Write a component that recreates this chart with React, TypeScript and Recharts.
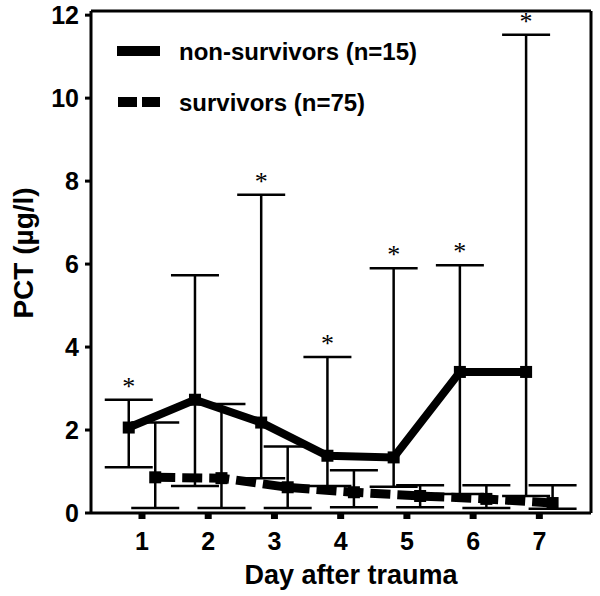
import {
  ComposedChart,
  Line,
  Scatter,
  XAxis,
  YAxis,
  ErrorBar,
  ReferenceLine,
  Legend,
} from "recharts";

const days = [1, 2, 3, 4, 5, 6, 7];
const yTicks = [0, 2, 4, 6, 8, 10, 12];

const nonSurvMean = [2.06, 2.73, 2.18, 1.38, 1.34, 3.4, 3.4];
const nonSurvUpper = [2.73, 5.73, 7.67, 3.76, 5.9, 5.97, 11.53];
const nonSurvLower = [1.1, 0.65, 0.84, 0.65, 0.63, 0.46, 0.41];
const nonSurvSignificant = [true, false, true, true, true, true, true];

const survMean = [0.86, 0.84, 0.62, 0.5, 0.41, 0.34, 0.24];
const survUpper = [2.18, 2.63, 1.6, 1.03, 0.67, 0.67, 0.67];
const survLower = [0.12, 0.12, 0.12, 0.14, 0.14, 0.12, 0.1];

const seriesNames = ["non-survivors (n=15)", "survivors (n=75)"];

const SHIFT = 0.2;
const X_MIN = 0.23;
const X_MAX = 7.78;
const Y_MAX = 12.1;
const FONT = '"Liberation Sans", Arial, sans-serif';

const nonSurvData = days.map((d, i) => ({
  x: d - SHIFT,
  y: nonSurvMean[i],
  err: [nonSurvMean[i] - nonSurvLower[i], nonSurvUpper[i] - nonSurvMean[i]],
}));

const survData = days.map((d, i) => ({
  x: d + SHIFT,
  y: survMean[i],
  err: [survMean[i] - survLower[i], survUpper[i] - survMean[i]],
}));

const starData = days
  .map((d, i) => ({ x: d - SHIFT, y: nonSurvUpper[i], sig: nonSurvSignificant[i] }))
  .filter((p) => p.sig);

const squareDot = (size: number) => (props: any) => {
  const { cx, cy, index } = props;
  if (cx == null || cy == null) return <g key={index} />;
  return (
    <rect key={index} x={cx - size / 2} y={cy - size / 2} width={size} height={size} fill="#000" />
  );
};

const Star = (props: any) => {
  const { cx, cy } = props;
  return (
    <text x={cx} y={cy - 5} textAnchor="middle" fontFamily='"Liberation Serif", serif' fontSize={26} fill="#000">
      *
    </text>
  );
};

const renderLegend = () => (
  <svg width={600} height={130}>
    <line x1={117} x2={160} y1={51} y2={51} stroke="#000" strokeWidth={10} />
    <text x={179} y={51} dominantBaseline="central" fontFamily={FONT} fontWeight="bold" fontSize={24}>
      {seriesNames[0]}
    </text>
    <line x1={118} x2={160} y1={102} y2={102} stroke="#000" strokeWidth={10} strokeDasharray="19 5" />
    <text x={179} y={102} dominantBaseline="central" fontFamily={FONT} fontWeight="bold" fontSize={24}>
      {seriesNames[1]}
    </text>
  </svg>
);

export default function App() {
  return (
    <div style={{ position: "absolute", left: 0, top: 0, background: "#fff" }}>
      <ComposedChart width={600} height={596} margin={{ top: 11, right: 9, bottom: 0, left: 0 }}>
        <XAxis
          type="number"
          dataKey="x"
          domain={[X_MIN, X_MAX]}
          ticks={days}
          allowDataOverflow
          height={83}
          axisLine={{ stroke: "#000", strokeWidth: 3 }}
          tickLine={{ stroke: "#000", strokeWidth: 7 }}
          tickSize={6}
          tickMargin={13}
          tick={{ fill: "#000", fontFamily: FONT, fontWeight: "bold", fontSize: 25 }}
          label={(p: any) => {
            const vb = p.viewBox;
            return (
              <text
                x={vb.x + vb.width / 2 + 10}
                y={584}
                textAnchor="middle"
                fontFamily={FONT}
                fontWeight="bold"
                fontSize={27}
                fill="#000"
              >
                Day after trauma
              </text>
            );
          }}
        />
        <YAxis
          type="number"
          dataKey="y"
          domain={[0, Y_MAX]}
          ticks={yTicks}
          allowDataOverflow
          width={91}
          axisLine={{ stroke: "#000", strokeWidth: 3 }}
          tickLine={{ stroke: "#000", strokeWidth: 3 }}
          tickSize={6}
          tickMargin={6}
          tick={{ fill: "#000", fontFamily: FONT, fontWeight: "bold", fontSize: 25 }}
          label={(p: any) => {
            const vb = p.viewBox;
            const cy = vb.y + vb.height / 2 - 9;
            return (
              <text
                x={33}
                y={cy}
                transform={`rotate(-90, 33, ${cy})`}
                textAnchor="middle"
                fontFamily={FONT}
                fontWeight="bold"
                fontSize={28}
                fill="#000"
              >
                PCT (µg/l)
              </text>
            );
          }}
        />
        <ReferenceLine y={Y_MAX} stroke="#000" strokeWidth={3} ifOverflow="visible" />
        <ReferenceLine x={X_MAX} stroke="#000" strokeWidth={3} ifOverflow="visible" />
        <Legend
          layout="vertical"
          verticalAlign="middle"
          align="center"
          content={renderLegend}
          wrapperStyle={{ left: 0, top: 0, width: 600, height: 130 }}
        />
        <Line
          data={survData}
          dataKey="y"
          name={seriesNames[1]}
          stroke="#000"
          strokeWidth={9}
          strokeDasharray="20 7"
          dot={squareDot(12)}
          activeDot={false}
          isAnimationActive={false}
        >
          <ErrorBar dataKey="err" direction="y" width={24} stroke="#000" strokeWidth={2.5} />
        </Line>
        <Line
          data={nonSurvData}
          dataKey="y"
          name={seriesNames[0]}
          stroke="#000"
          strokeWidth={8}
          dot={squareDot(12)}
          activeDot={false}
          isAnimationActive={false}
        >
          <ErrorBar dataKey="err" direction="y" width={24} stroke="#000" strokeWidth={2.5} />
        </Line>
        <Scatter data={starData} shape={<Star />} isAnimationActive={false} legendType="none" />
      </ComposedChart>
    </div>
  );
}
